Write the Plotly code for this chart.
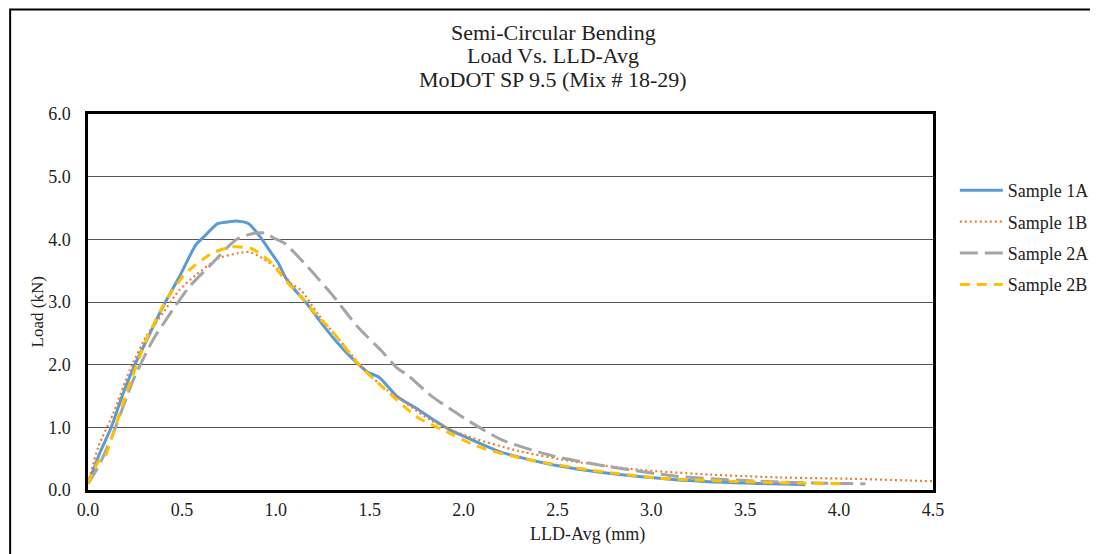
import plotly.graph_objects as go

# ---- data ----
x_1a = [0.0, 0.063, 0.125, 0.187, 0.248, 0.33, 0.398, 0.486, 0.574, 0.62, 0.69, 0.75, 0.80, 0.856, 0.917,
        0.979, 1.014, 1.05, 1.10, 1.164, 1.26, 1.331, 1.40, 1.49, 1.55, 1.648, 1.75, 1.85, 1.926, 2.0,
        2.185, 2.3, 2.48, 2.76, 3.13, 3.50, 3.82]
y_1a = [0.10, 0.59, 1.01, 1.54, 1.99, 2.50, 2.92, 3.40, 3.91, 4.05, 4.25, 4.28, 4.29, 4.25, 4.04,
        3.77, 3.62, 3.40, 3.20, 2.98, 2.60, 2.34, 2.12, 1.88, 1.80, 1.49, 1.30, 1.10, 0.96, 0.86,
        0.62, 0.52, 0.40, 0.27, 0.165, 0.11, 0.085]

x_1b = [0.0, 0.055, 0.134, 0.222, 0.31, 0.398, 0.486, 0.574, 0.697, 0.80, 0.856, 0.917, 0.97, 1.03,
        1.08, 1.137, 1.226, 1.322, 1.384, 1.472, 1.595, 1.70, 1.833, 2.018, 2.296, 2.574, 2.944,
        3.315, 3.685, 4.055, 4.5]
y_1b = [0.10, 0.69, 1.22, 1.91, 2.45, 2.82, 3.19, 3.43, 3.70, 3.78, 3.80, 3.72, 3.62, 3.48,
        3.30, 3.18, 2.80, 2.45, 2.23, 1.91, 1.59, 1.37, 1.10, 0.86, 0.62, 0.46, 0.32,
        0.245, 0.20, 0.18, 0.14]

x_2a = [0.0, 0.06, 0.134, 0.24, 0.345, 0.45, 0.539, 0.662, 0.786, 0.873, 0.944, 0.99, 1.05, 1.17,
        1.31, 1.437, 1.56, 1.648, 1.70, 1.833, 2.018, 2.204, 2.48, 2.76, 3.13, 3.50, 3.87, 4.14]
y_2a = [0.10, 0.40, 0.90, 1.75, 2.39, 2.87, 3.24, 3.62, 3.99, 4.09, 4.10, 4.02, 3.93, 3.56,
        3.08, 2.60, 2.23, 1.94, 1.84, 1.49, 1.12, 0.80, 0.54, 0.38, 0.22, 0.15, 0.11, 0.10]

x_2b = [0.0, 0.055, 0.09, 0.134, 0.204, 0.31, 0.416, 0.52, 0.662, 0.768, 0.873, 0.979, 1.05, 1.137,
        1.226, 1.296, 1.437, 1.595, 1.76, 1.89, 2.07, 2.30, 2.67, 3.04, 3.41, 3.78, 4.02]
y_2b = [0.10, 0.45, 0.53, 0.90, 1.54, 2.39, 3.03, 3.46, 3.78, 3.88, 3.85, 3.62, 3.35, 3.08,
        2.76, 2.55, 2.02, 1.57, 1.15, 0.96, 0.70, 0.51, 0.32, 0.19, 0.14, 0.11, 0.10]

names = ["Sample 1A", "Sample 1B", "Sample 2A", "Sample 2B"]
title_lines = ["Semi-Circular Bending", "Load Vs. LLD-Avg", "MoDOT SP 9.5 (Mix # 18-29)"]
x_title = "LLD-Avg (mm)"
y_title = "Load (kN)"

FONT = "Liberation Serif, Times New Roman, serif"
TXT = "#222"

# plot area in page pixels (page body has an 8px margin)
PL, PR, PT, PB = 88, 940, 114, 490
PW, PH = PR - PL, PB - PT


def px(xp):
    return (xp - PL) / PW


def py(yp):
    return (PB - yp) / PH


fig = go.Figure()
series = [
    (x_1a, y_1a, names[0], "#5B9BD5", 3, "solid"),
    (x_1b, y_1b, names[1], "#ED7D31", 2.2, "2px,3px"),
    (x_2a, y_2a, names[2], "#A5A5A5", 3, "18px,7px"),
    (x_2b, y_2b, names[3], "#FFC000", 3, "10px,7px"),
]
for i, (xs, ys, nm, col, w, dash) in enumerate(series):
    fig.add_trace(go.Scatter(x=xs, y=ys, name=nm, mode="lines", legendgroup=str(i),
                             line=dict(color=col, width=w, dash=dash, shape="spline", smoothing=0.6)))

for txt, yp in zip(title_lines, [32, 55, 79]):
    fig.add_annotation(text=txt, xref="paper", yref="paper", x=px(557), y=py(yp),
                       xanchor="center", yanchor="middle", showarrow=False,
                       font=dict(family=FONT, size=22, color=TXT))

fig.add_annotation(text=x_title, xref="paper", yref="paper", x=px(592), y=py(534),
                   xanchor="center", yanchor="middle", showarrow=False,
                   font=dict(family=FONT, size=18, color=TXT))
fig.add_annotation(text=y_title, xref="paper", yref="paper", x=px(37), y=py(312), textangle=-90,
                   xanchor="center", yanchor="middle", showarrow=False,
                   font=dict(family=FONT, size=17, color=TXT))

# outer frame (kept just inside the drawable area)
fig.add_shape(type="rect", xref="paper", yref="paper", x0=px(9.5), x1=1.4, y0=-0.4, y1=py(9.5),
              line=dict(color="black", width=2), layer="below")

fig.update_layout(
    width=1098, height=554,
    margin=dict(l=PL - 8, r=1098 - (PL - 8) - PW, t=PT - 8, b=554 - (PT - 8) - PH),
    paper_bgcolor="white", plot_bgcolor="white",
    font=dict(family=FONT, size=18, color=TXT),
    showlegend=True,
    legend=dict(x=px(962), y=py(172), xanchor="left", yanchor="top",
                font=dict(family=FONT, size=18, color=TXT), itemwidth=43,
                tracegroupgap=5, bgcolor="rgba(0,0,0,0)"),
    xaxis=dict(range=[0, 4.5], dtick=0.5, tick0=0, tickformat=".1f", showgrid=False, zeroline=False,
               showline=True, linecolor="black", linewidth=2.5, mirror=True, ticks="",
               tickfont=dict(family=FONT, size=18, color=TXT), ticklabelstandoff=2),
    yaxis=dict(range=[0, 6], dtick=1, tick0=0, tickformat=".1f", showgrid=True, gridcolor="#555",
               gridwidth=1, zeroline=False, showline=True, linecolor="black", linewidth=2.5, mirror=True,
               ticks="", tickfont=dict(family=FONT, size=18, color=TXT), ticklabelstandoff=11),
)

fig.write_html("out.html")
